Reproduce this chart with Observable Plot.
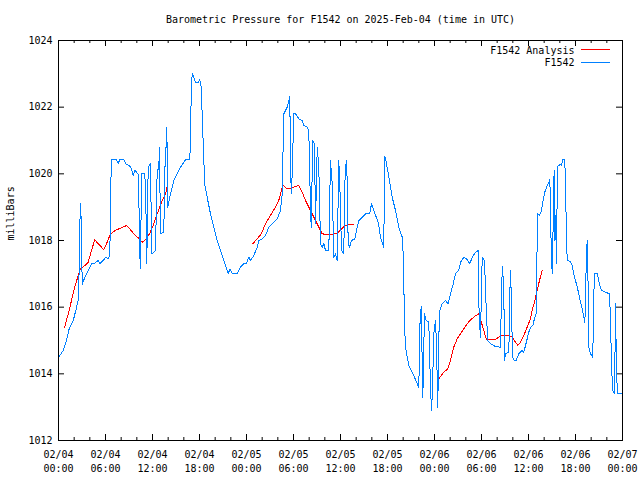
<!DOCTYPE html>
<html><head><meta charset="utf-8">
<script src="https://cdn.jsdelivr.net/npm/d3@7"></script>
<script src="https://cdn.jsdelivr.net/npm/@observablehq/plot@0.6"></script>
<style>body{margin:0;background:#fff}</style>
</head><body><div id="chart"></div>
<script>
const startUTC = Date.UTC(2025, 1, 4);
const endUTC = Date.UTC(2025, 1, 7);
const titleText = "Barometric Pressure for F1542 on 2025-Feb-04 (time in UTC)";
const yLabel = "milliBars";
const seriesNames = ["F1542 Analysis", "F1542"];
const seriesColors = ["#ff0000", "#0080ff"];
const yTicks = [1012, 1014, 1016, 1018, 1020, 1022, 1024];
const xTickHours = [0, 6, 12, 18, 24, 30, 36, 42, 48, 54, 60, 66, 72];
const xMinorTickHours = [2, 4, 8, 10, 14, 16, 20, 22, 26, 28, 32, 34, 38, 40, 44, 46, 50, 52, 56, 58, 62, 64, 68, 70];

// F1542 observations: hours after 2025-02-04 00:00 UTC, pressure (mb)
const blueHours = [0,0.60,1.02,1.37,1.88,2.21,2.46,2.59,2.68,2.85,2.94,3.03,3.36,3.79,4.21,4.63,5.07,5.27,5.71,6.04,6.34,6.55,6.68,6.77,7.40,7.62,7.83,8.34,8.68,9.03,9.32,9.54,9.74,9.96,10.17,10.25,10.43,10.63,11.02,11.14,11.27,11.45,11.74,11.91,12.38,12.60,12.80,12.89,13.02,13.44,13.60,13.70,13.83,13.95,14.30,14.72,15.15,15.57,16.00,16.21,16.76,16.85,16.94,17.07,17.49,17.87,18.04,18.22,18.34,18.55,18.68,18.98,19.40,19.83,20.26,20.68,21.10,21.66,21.89,22.17,22.81,23.23,23.66,24.00,24.29,24.51,24.93,25.37,25.57,26.00,26.43,26.85,27.28,27.92,28.34,28.56,28.69,28.76,29.20,29.40,29.53,29.62,29.74,29.83,30.04,30.26,30.68,31.11,31.32,31.75,31.95,32.17,32.26,32.46,32.68,32.81,33.03,33.23,33.45,33.66,33.87,34.09,34.51,34.72,34.94,35.15,35.36,35.58,35.78,35.91,36.13,36.42,36.55,36.73,36.86,36.98,37.19,37.40,37.83,38.13,38.34,38.77,39.19,39.74,39.96,40.25,40.56,40.81,40.98,41.11,41.32,41.53,41.58,41.66,41.84,42.17,42.60,43.02,43.44,43.88,44.08,44.13,44.30,44.52,44.72,45.03,45.36,45.70,46.00,46.12,46.30,46.51,46.72,46.94,47.27,47.49,47.62,47.74,47.91,48.13,48.26,48.42,48.55,48.68,48.98,49.40,49.75,50.04,50.39,50.68,51.10,51.32,51.74,52.09,52.51,52.81,53.23,53.58,53.70,53.87,54.09,54.38,54.64,54.80,55.15,55.79,56.43,56.56,56.68,56.85,56.94,57.07,57.49,57.62,57.70,57.79,57.96,58.21,58.43,58.76,59.20,59.40,59.62,59.83,60.04,60.26,60.55,60.81,60.98,61.11,61.19,61.40,61.66,61.83,62.08,62.39,62.59,62.72,62.81,62.90,63.03,63.10,63.19,63.28,63.36,63.45,63.57,63.66,63.74,64.00,64.21,64.38,64.63,64.72,64.85,64.94,65.27,65.58,65.78,66.00,66.22,66.42,66.64,66.86,67.07,67.19,67.28,67.37,67.49,67.57,67.70,67.91,68.21,68.33,68.46,68.77,69.06,69.32,69.83,70.34,70.47,70.60,70.76,70.94,71.02,71.11,71.23,71.36,72.00];
const bluePressure = [1014.49,1014.70,1015.00,1015.36,1015.60,1015.90,1016.15,1016.30,1018.35,1019.10,1017.85,1016.68,1016.90,1017.10,1017.30,1017.32,1017.40,1017.30,1017.40,1017.50,1017.45,1017.55,1019.70,1020.42,1020.42,1020.32,1020.42,1020.42,1020.28,1020.25,1020.15,1019.95,1020.10,1020.05,1019.98,1019.30,1017.16,1020.00,1020.00,1019.30,1017.30,1020.20,1020.30,1017.60,1017.70,1020.10,1020.16,1020.80,1018.20,1018.25,1020.25,1020.65,1021.40,1019.00,1019.40,1019.80,1020.00,1020.20,1020.35,1020.42,1020.42,1021.05,1022.40,1023.02,1022.75,1022.75,1022.82,1022.60,1021.80,1020.42,1019.65,1019.30,1018.80,1018.40,1018.00,1017.70,1017.40,1017.02,1017.13,1017.02,1017.02,1017.20,1017.30,1017.30,1017.50,1017.40,1017.55,1017.80,1018.00,1018.05,1018.15,1018.40,1018.50,1018.65,1018.90,1019.40,1021.00,1021.80,1022.00,1022.20,1022.32,1020.10,1019.40,1020.00,1021.80,1021.80,1021.65,1021.60,1021.45,1021.40,1021.30,1019.00,1018.40,1021.00,1020.90,1018.50,1020.80,1020.20,1017.90,1017.80,1017.90,1017.70,1017.70,1020.40,1019.70,1017.50,1017.60,1017.40,1020.40,1019.70,1017.70,1017.60,1019.70,1020.40,1019.80,1017.90,1017.80,1018.00,1018.05,1018.40,1018.60,1018.70,1018.80,1018.82,1019.10,1018.90,1018.70,1018.55,1018.30,1018.10,1017.95,1017.80,1019.15,1020.52,1020.35,1019.90,1019.30,1018.90,1018.40,1018.10,1017.25,1015.70,1014.80,1014.50,1014.25,1014.10,1013.95,1013.75,1013.60,1015.40,1016.02,1013.30,1015.80,1015.60,1015.55,1013.60,1012.90,1013.50,1015.20,1015.60,1014.80,1013.00,1015.10,1015.90,1016.10,1016.20,1016.10,1016.40,1016.70,1017.00,1017.10,1017.35,1017.50,1017.45,1017.30,1017.50,1017.65,1017.70,1015.70,1015.10,1017.50,1017.40,1015.70,1015.00,1014.90,1014.82,1014.80,1016.60,1017.22,1016.50,1014.40,1014.60,1014.65,1016.40,1017.10,1016.45,1014.50,1014.40,1014.40,1014.60,1014.70,1014.65,1014.85,1015.05,1015.25,1015.40,1015.45,1015.70,1015.80,1018.05,1018.80,1018.75,1018.90,1019.15,1019.45,1019.65,1019.75,1019.82,1019.10,1017.70,1017.00,1017.70,1019.40,1020.10,1018.00,1018.75,1017.30,1019.40,1020.22,1020.28,1020.25,1020.42,1020.42,1019.70,1018.15,1017.40,1017.38,1017.25,1017.00,1016.80,1016.60,1016.40,1016.15,1015.95,1015.70,1015.55,1016.15,1017.40,1018.00,1017.30,1014.80,1014.60,1014.50,1016.40,1017.00,1017.00,1016.70,1016.50,1016.45,1016.40,1015.65,1014.20,1013.50,1013.40,1014.10,1016.10,1014.10,1013.40,1013.40];

// F1542 Analysis: three separate runs
const analysisHours = [
  [0.80,1.24,1.66,2.08,2.51,2.81,3.36,3.79,4.21,4.63,5.07,5.49,5.78,6.13,6.55,6.89,7.40,8.04,8.68,9.10,9.61,10.17,10.72,11.23,11.66,12.09,12.60,13.24,13.66,13.88],
  [24.80,25.37,25.88,26.43,27.06,27.70,28.12,28.34,28.56,28.69,29.20,29.62,30.04,30.68,31.11,31.53,31.95,32.39,32.81,33.23,33.66,34.30,34.94,35.58,36.13,36.55,37.06,37.70],
  [48.55,49.19,49.70,50.04,50.46,50.90,51.32,51.74,52.17,52.60,53.11,53.66,53.87,54.22,54.64,55.15,55.79,56.21,56.64,57.28,57.92,58.34,58.64,58.98,59.40,59.83,60.26,60.47,60.81,61.11,61.40,61.75]
];
const analysisPressure = [
  [1015.40,1015.80,1016.20,1016.60,1016.95,1017.15,1017.25,1017.35,1017.70,1018.02,1017.90,1017.80,1017.72,1017.90,1018.15,1018.25,1018.32,1018.38,1018.45,1018.35,1018.20,1018.08,1017.95,1018.05,1018.22,1018.45,1018.80,1019.20,1019.40,1019.62],
  [1017.90,1018.05,1018.20,1018.50,1018.75,1019.00,1019.20,1019.40,1019.60,1019.65,1019.55,1019.55,1019.60,1019.65,1019.45,1019.20,1019.00,1018.80,1018.60,1018.40,1018.20,1018.18,1018.18,1018.22,1018.35,1018.45,1018.47,1018.47],
  [1013.85,1014.05,1014.15,1014.40,1014.80,1015.05,1015.20,1015.35,1015.50,1015.62,1015.72,1015.80,1015.65,1015.35,1015.03,1015.02,1015.03,1015.10,1015.15,1015.15,1015.10,1014.95,1014.85,1014.95,1015.15,1015.40,1015.65,1015.90,1016.20,1016.50,1016.80,1017.10]
];

if (blueHours.length !== bluePressure.length) throw new Error("blue length mismatch " + blueHours.length + " vs " + bluePressure.length);
analysisHours.forEach((h, i) => { if (h.length !== analysisPressure[i].length) throw new Error("analysis mismatch " + i); });

const toDate = h => new Date(startUTC + h * 3600e3);
const obs = blueHours.map((h, i) => ({t: toDate(h), p: bluePressure[i]}));
const analysis = analysisHours.flatMap((hs, run) => hs.map((h, i) => ({t: toDate(h), p: analysisPressure[run][i], run})));
const xMajor = xTickHours.map(toDate);
const xMinor = xMinorTickHours.map(toDate);

const font = "'DejaVu Sans Mono', 'Liberation Mono', monospace";
const W = 640, H = 480, ML = 58, MR = 18, MT = 40, MB = 40;
const FW = W - ML - MR, FH = H - MT - MB;
const majorLen = 6, minorLen = 3;

const plot = Plot.plot({
  width: W, height: H,
  marginLeft: ML, marginRight: MR, marginTop: MT, marginBottom: MB,
  style: {fontFamily: font, fontSize: "10px", background: "#fff", color: "#000", overflow: "visible"},
  x: {type: "utc", domain: [new Date(startUTC), new Date(endUTC)]},
  y: {domain: [1012, 1024]},
  marks: [
    Plot.axisX({ticks: xMajor, tickFormat: d3.utcFormat("%m/%d\n%H:%M"), tickSize: 0, tickPadding: 8, lineHeight: 1.35, label: null}),
    Plot.axisY({ticks: yTicks, tickFormat: d => String(d), tickSize: 0, tickPadding: 6, label: null}),
    // inward ticks (bottom/top, left/right)
    Plot.tickX(xMajor, {x: d => d, insetTop: FH - majorLen, stroke: "#000"}),
    Plot.tickX(xMajor, {x: d => d, insetBottom: FH - majorLen, stroke: "#000"}),
    Plot.tickX(xMinor, {x: d => d, insetTop: FH - minorLen, stroke: "#000"}),
    Plot.tickX(xMinor, {x: d => d, insetBottom: FH - minorLen, stroke: "#000"}),
    Plot.tickY(yTicks, {y: d => d, insetRight: FW - majorLen, stroke: "#000"}),
    Plot.tickY(yTicks, {y: d => d, insetLeft: FW - majorLen, stroke: "#000"}),
    Plot.line(analysis, {x: "t", y: "p", z: "run", stroke: seriesColors[0], strokeWidth: 1, shapeRendering: "crispEdges"}),
    Plot.line(obs, {x: "t", y: "p", stroke: seriesColors[1], strokeWidth: 1, shapeRendering: "crispEdges"}),
    Plot.frame({stroke: "#000", strokeWidth: 1}),
    Plot.text([titleText], {frameAnchor: "top", dy: -21, text: d => d, lineAnchor: "middle", fontSize: 10}),
    Plot.text([yLabel], {frameAnchor: "left", dx: -48, rotate: -90, text: d => d, lineAnchor: "middle", fontSize: 10}),
    Plot.text([seriesNames[0]], {frameAnchor: "top-right", dx: -48, dy: 10, text: d => d, textAnchor: "end", lineAnchor: "middle", fontSize: 10}),
    Plot.text([seriesNames[1]], {frameAnchor: "top-right", dx: -48, dy: 22.5, text: d => d, textAnchor: "end", lineAnchor: "middle", fontSize: 10})
  ]
});

// legend line samples
const svg = d3.select(plot);
[[seriesColors[0], MT + 9.5], [seriesColors[1], MT + 22.5]].forEach(([c, y]) => {
  svg.append("line").attr("x1", W - MR - 41).attr("x2", W - MR - 12).attr("y1", y).attr("y2", y)
    .attr("stroke", c).attr("stroke-width", 1).attr("shape-rendering", "crispEdges");
});

document.getElementById("chart").appendChild(plot);
</script>
</body></html>
